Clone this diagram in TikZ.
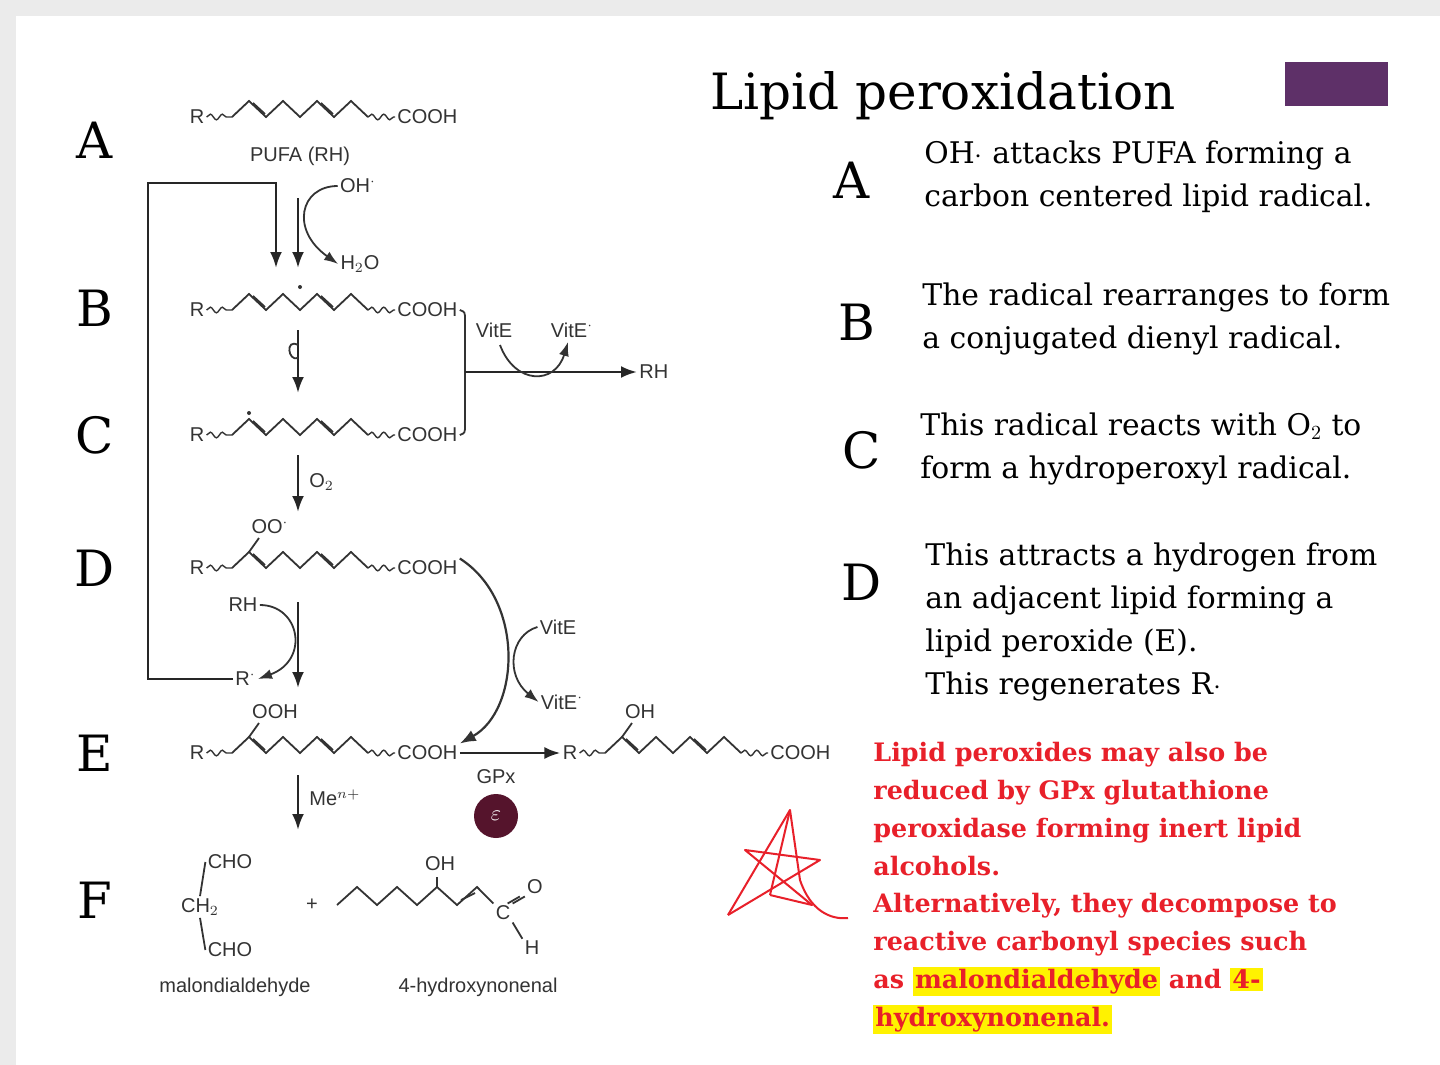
\documentclass[tikz,border=0pt]{standalone}
\usepackage{fontspec}
\setmainfont{DejaVu Serif}
\newfontfamily\chemfont{Liberation Sans}
\usetikzlibrary{decorations.pathmorphing,arrows.meta}
\definecolor{chem}{HTML}{333333}
\definecolor{redtxt}{HTML}{E8202A}
\definecolor{purp}{HTML}{5E3068}
\newcommand\rad{$^{\cdot}$}
\newcommand\hl[1]{{\setlength\fboxsep{1pt}\colorbox{yellow}{#1}}}
\tikzset{
  ch/.style={font=\chemfont\fontsize{10}{12}\selectfont,text=chem,inner sep=1pt},
  bond/.style={draw=chem,line width=0.9pt},
  wav/.style={draw=chem,line width=0.7pt,decorate,decoration={snake,segment length=6,amplitude=1.4}},
  arr/.style={draw=black!85,line width=1.3pt,-{Latex[length=8,width=6]}},
  letter/.style={font=\fontsize{25}{28}\selectfont,inner sep=0pt},
  body/.style={font=\fontsize{14.9}{21.5}\selectfont,align=left,anchor=north west,inner sep=0pt},
  redb/.style={font=\bfseries\fontsize{12.7}{18.9}\selectfont,text=redtxt,align=left,anchor=north west,inner sep=0pt},
}
% #1 name, #2 x of R, #3 y
\newcommand\chainat[3]{%
  \node[ch,anchor=center] (#1R) at (#2,#3) {R};
  \node[ch,anchor=west] (#1C) at ({#2+198},#3) {COOH};
  \draw[wav] (#1R.east) -- ({#2+35},#3);
  \draw[bond] ({#2+35},#3) -- ++(17,-16) -- ++(17,16) -- ++(17,-16) -- ++(17,16) -- ++(17,-16) -- ++(17,16) -- ++(17,-16) -- ++(17,16);
  \draw[bond] ({#2+35+17+4},{#3-14}) -- ({#2+35+34-1},{#3-3});
  \draw[bond] ({#2+35+85+4},{#3-14}) -- ({#2+35+102-1},{#3-3});
  \draw[wav] ({#2+171},#3) -- (#1C.west);
}
\begin{document}
\begin{tikzpicture}[x=0.5pt,y=-0.5pt]
\useasboundingbox (0,0) rectangle (1440,1065);
\fill[black!8] (0,0) rectangle (1440,1065);
\fill[white] (16,16) rectangle (1440,1065);
% letters left
\foreach \l/\y in {A/140,B/308,C/435,D/568,E/753,F/900}
  \node[letter] (L\l) at (95,\y) {\l};
% chains
\chainat{a}{197}{117}
\node[ch] (pufa) at (300,156) {PUFA (RH)};
\chainat{b}{197}{310}
\fill[chem] (300,287) circle (2);
\chainat{c}{197}{435}
\fill[chem] (249,413) circle (2);
\chainat{d}{197}{568}
\draw[bond] (249,552) -- (259,538);
\node[ch] (oo) at (270,527) {OO\rad};
\chainat{e}{197}{753}
\draw[bond] (249,737) -- (259,723);
\node[ch] (ooh) at (275,712) {OOH};
\chainat{p}{570}{753}
\draw[bond] (622,737) -- (632,723);
\node[ch] (oh) at (640,712) {OH};
% A->B
\node[ch] (ohr) at (358,186) {OH\rad};
\node[ch] (h2o) at (360,264) {H$_2$O};
\draw[arr] (298,198) -- (298,268);
\draw[bond,-{Latex[length=7,width=5]}] (ohr.west) .. controls (300,186) and (290,230) .. (h2o.west);
\node[ch,anchor=west] (Rp) at (233,679) {R\rad};
\draw[arr] (Rp.west) -- (148,679) -- (148,183) -- (276,183) -- (276,268);
% B->C
\draw[arr] (298,330) -- (298,393);
\draw[bond] (298,345) .. controls (285,338) and (288,362) .. (298,358);
% B,C -> RH
\node[ch,anchor=west] (rh1) at (637,372) {RH};
\draw[bond] (bC.east) .. controls (465,312) .. (465,320) -- (465,425) .. controls (465,433) .. (cC.east);
\draw[arr] (465,372) -- (rh1.west);
\node[ch] (vite1) at (494,330) {VitE};
\node[ch] (vite1r) at (572,330) {VitE\rad};
\draw[bond,-{Latex[length=7,width=5]}] (500,345) .. controls (515,385) and (555,385) .. (568,342);
% C->D
\draw[arr] (298,455) -- (298,512);
\node[ch,anchor=west] (o2) at (307,482) {O$_2$};
% D->E
\draw[arr] (298,602) -- (298,688);
\node[ch] (rh2) at (243,605) {RH};
\draw[bond,-{Latex[length=7,width=5]}] (rh2.east) .. controls (300,605) and (310,660) .. (Rp.east);
% D->E big curve
\draw[bond,line width=1.1pt,-{Latex[length=8,width=6]}] (dC.north east) .. controls (525,600) and (520,710) .. (eC.north east);
\node[ch] (vite2) at (558,627) {VitE};
\node[ch] (vite2r) at (562,702) {VitE\rad};
\draw[bond,-{Latex[length=7,width=5]}] (vite2.west) .. controls (510,635) and (505,675) .. (vite2r.west);
% E -> product
\draw[arr] (eC.east) -- (pR.west);
\node[ch] (gpx) at (496,777) {GPx};
\node[circle,fill=purp!70!red!60!black,minimum size=22,inner sep=0pt] (icon) at (496,816) {};
\node[text=white,font=\bfseries\fontsize{11}{11}\selectfont] at (icon) {$\varepsilon$};
% E->F
\draw[arr] (298,775) -- (298,830);
\node[ch,anchor=west] (me) at (307,798) {Me$^{n+}$};
% F
\node[ch] (cho1) at (230,862) {CHO};
\node[ch] (ch2) at (200,907) {CH$_2$};
\node[ch] (cho2) at (230,950) {CHO};
\draw[bond] (cho1.west) -- (ch2.north);
\draw[bond] (ch2.south) -- (cho2.west);
\node[ch] (mal) at (235,987) {malondialdehyde};
\node[ch] (plus) at (312,905) {+};
\node[ch] (cc) at (503,913) {C};
\draw[bond] (337,905) -- (357,887) -- (377,905) -- (397,887) -- (417,905) -- (437,887) -- (457,905) -- (477,887) -- (cc.north west);
\draw[bond] (461,900) -- (475,893);
\draw[bond] (437,887) -- (437,877);
\node[ch] (oh2) at (440,864) {OH};
\node[ch] (o) at (535,887) {O};
\node[ch] (hh) at (532,948) {H};
\draw[bond] (cc.north east) -- (o.south west);
\draw[bond] ([xshift=-2.5pt]cc.north east) -- ([xshift=-2.5pt]o.south west);
\draw[bond] (cc.south east) -- (hh.north west);
\node[ch] (hne) at (478,987) {4-hydroxynonenal};
% right side
\node[font=\fontsize{25}{28}\selectfont,anchor=west,inner sep=0pt] (title) at (710,96) {Lipid peroxidation};
\fill[purp] (1285,62) rectangle (1388,106);
\node[letter] (RA) at (852,180) {A};
\node[letter] (RB) at (857,322) {B};
\node[letter] (RC) at (862,450) {C};
\node[letter] (RD) at (862,582) {D};
\node[body] (tA) at (924,140) {OH$\cdot$ attacks PUFA forming a\\carbon centered lipid radical.};
\node[body] (tB) at (922,282) {The radical rearranges to form\\a conjugated dienyl radical.};
\node[body] (tC) at (920,412) {This radical reacts with O$_2$ to\\form a hydroperoxyl radical.};
\node[body] (tD) at (925,542) {This attracts a hydrogen from\\an adjacent lipid forming a\\lipid peroxide (E).\\This regenerates R$\cdot$};
\node[redb] (red) at (873,742) {Lipid peroxides may also be\\reduced by GPx glutathione\\peroxidase forming inert lipid\\alcohols.\\Alternatively, they decompose to\\reactive carbonyl species such\\as \hl{malondialdehyde} and \hl{4-}\\\hl{hydroxynonenal.}};
% star
\draw[redtxt,line width=1pt,line join=round] (728,915) -- (790,810) -- (800,880) .. controls (810,910) and (830,920) .. (848,918);
\draw[redtxt,line width=1pt,line join=round] (790,810) -- (770,895) ;
\draw[redtxt,line width=1pt,line join=round] (728,915) -- (820,860) -- (745,850) -- (812,905) -- (770,895);
\end{tikzpicture}
\end{document}
